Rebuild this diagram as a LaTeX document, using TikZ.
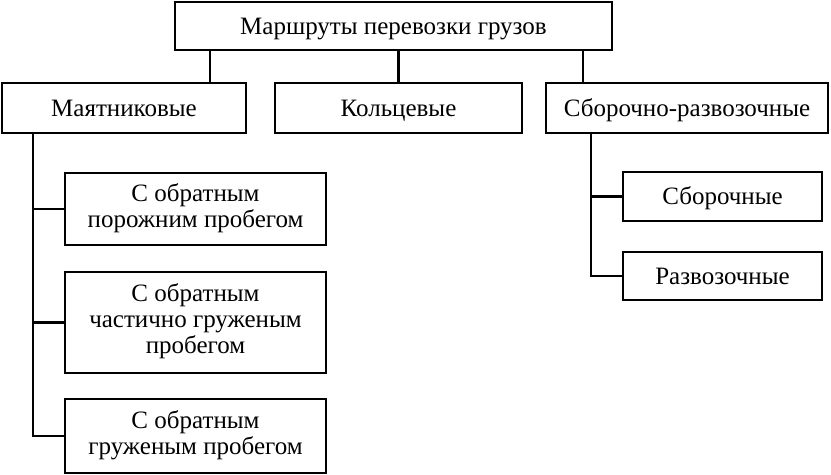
\documentclass[tikz,border=0pt]{standalone}
\usepackage{fontspec}
\setmainfont{Liberation Serif}
\usepackage{tikz}
\usetikzlibrary{positioning}
\tikzstyle{box}=[rectangle,draw=black,line width=1.3pt,align=center,
			  inner sep=0pt,font=\fontsize{12.5}{13}\selectfont,
			  execute at begin node={\vrule height 12pt depth 0pt width 0pt},
			  execute at end node={\vrule height 0pt depth 3.5pt width 0pt}]
\tikzstyle{line}=[black,line width=1.3pt]

\begin{document}
\begin{tikzpicture}[x=0.5pt,y=-0.5pt]
	\useasboundingbox (0,0) rectangle (831,475);
	\node[box,minimum width=218.5pt,minimum height=24pt] (routes) at (393.5,26) {Маршруты перевозки грузов};
	\node[box,minimum width=122pt,minimum height=25pt] (pend) at (124,108) {Маятниковые};
	\node[box,minimum width=123.5pt,minimum height=25pt] (ring) at (398.5,108) {Кольцевые};
	\node[box,minimum width=141pt,minimum height=25pt] (coll) at (687,108) {Сборочно-развозочные};
	\node[box,minimum width=130.5pt,minimum height=36pt] (p1) at (195.5,209) {С обратным\\порожним пробегом};
	\node[box,minimum width=130.5pt,minimum height=50.5pt] (p2) at (195.5,322.5) {С обратным\\частично груженым\\пробегом};
	\node[box,minimum width=130.5pt,minimum height=37pt] (p3) at (195.5,436) {С обратным\\груженым пробегом};
	\node[box,minimum width=99.5pt,minimum height=24.5pt] (c1) at (722.5,196.5) {Сборочные};
	\node[box,minimum width=99.5pt,minimum height=24pt] (c2) at (722.5,276) {Развозочные};

	\coordinate (pendtop) at (210,83);
	\coordinate (colltop) at (583,83);
	\coordinate (pendbus) at (33,133);
	\coordinate (collbus) at (591,133);

	% top level
  \path [line] (routes.south -| pendtop) edge (pendtop);
  \path [line] (routes.south -| ring.north) edge (ring.north);
  \path [line] (routes.south -| colltop) edge (colltop);
	% pendulum routes
  \draw [line] (pendbus) |- (p1.west);
  \draw [line] (pendbus) |- (p2.west);
  \draw [line] (pendbus) |- (p3.west);
	% collecting routes
  \draw [line] (collbus) |- (c1.west);
  \draw [line] (collbus) |- (c2.west);
\end{tikzpicture}
\end{document}
